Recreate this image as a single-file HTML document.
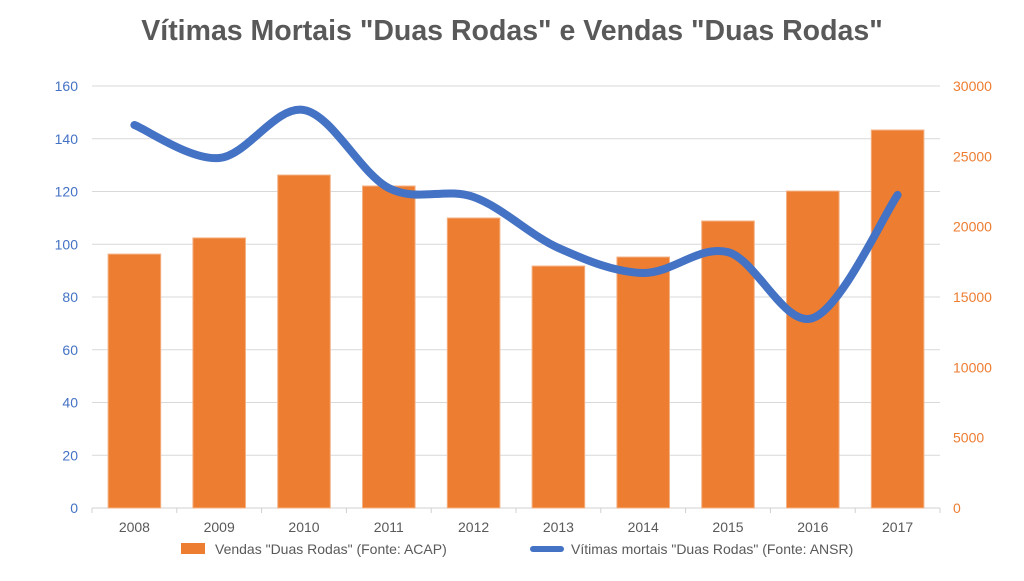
<!DOCTYPE html>
<html><head><meta charset="utf-8"><style>
body{margin:0;background:#fff;font-family:"Liberation Sans",sans-serif}
</style></head><body>
<svg id="c" width="1024" height="576" viewBox="0 0 1024 576" xmlns="http://www.w3.org/2000/svg">
<text x="512" y="40" text-anchor="middle" font-size="28.5" font-weight="bold" fill="#595959">Vítimas Mortais "Duas Rodas" e Vendas "Duas Rodas"</text>
<g id="grid"></g><g id="bars"></g><g id="line"></g><g id="axes"></g>
<g>
<rect x="181" y="543" width="24" height="11" fill="#ED7D31"/>
<text x="215" y="554" font-size="14" fill="#595959">Vendas "Duas Rodas" (Fonte: ACAP)</text>
<line x1="533" y1="549" x2="561" y2="549" stroke="#4472C4" stroke-width="6" stroke-linecap="round"/>
<text x="571" y="554" font-size="14" fill="#595959">Vítimas mortais "Duas Rodas" (Fonte: ANSR)</text>
</g>
</svg>
<script>
const years=["2008","2009","2010","2011","2012","2013","2014","2015","2016","2017"];
const vendas=[18050,19200,23670,22890,20615,17200,17840,20400,22530,26870];
const vitimas=[145.2,132.7,150.9,121.3,117.9,98.6,89.1,97,72,118.7];
const leftTicks=[0,20,40,60,80,100,120,140,160];
const rightTicks=[0,5000,10000,15000,20000,25000,30000];
const NS="http://www.w3.org/2000/svg";
const X0=92,X1=940,Y0=508,Y1=86,bw=(X1-X0)/years.length;
const yL=v=>Y0-(v/160)*(Y0-Y1);
const yR=v=>Y0-(v/30000)*(Y0-Y1);
const xc=i=>X0+bw*(i+0.5);
function mk(t,a,p){const e=document.createElementNS(NS,t);for(const k in a)e.setAttribute(k,a[k]);document.getElementById(p).appendChild(e);return e;}
leftTicks.forEach(v=>{
 const g=mk('line',{x1:X0,x2:X1,y1:yL(v),y2:yL(v),stroke:v?'#d9d9d9':'#d0d0d0','stroke-width':1},'grid');
 
 
 const t=mk('text',{x:78,y:yL(v)+5,'text-anchor':'end','font-size':14,fill:'#4472C4'},'axes');t.textContent=v;
 
 
});
rightTicks.forEach(v=>{
 const t=mk('text',{x:953,y:yR(v)+5,'font-size':14,fill:'#ED7D31'},'axes');t.textContent=v;
 
 
});
for(let i=0;i<=years.length;i++){const l=mk('line',{x1:X0+bw*i,x2:X0+bw*i,y1:Y0,y2:Y0+5,stroke:'#d0d0d0'},'axes');
 
 }
years.forEach((y,i)=>{
 const t=mk('text',{x:xc(i),y:532,'text-anchor':'middle','font-size':14,fill:'#595959'},'axes');t.textContent=y;
 
 
 const w=bw*0.62;
 const r=mk('rect',{x:xc(i)-w/2,y:yR(vendas[i]),width:w,height:Y0-yR(vendas[i]),fill:'#ED7D31',stroke:'#F4B183','stroke-width':1},'bars');
 
 
});
const pts=vitimas.map((v,i)=>[xc(i),yL(v)]);
let d='M'+pts[0][0]+','+pts[0][1];
for(let i=0;i<pts.length-1;i++){
 const p0=pts[Math.max(0,i-1)],p1=pts[i],p2=pts[i+1],p3=pts[Math.min(pts.length-1,i+2)];
 const c1=[p1[0]+(p2[0]-p0[0])/6,p1[1]+(p2[1]-p0[1])/6],c2=[p2[0]-(p3[0]-p1[0])/6,p2[1]-(p3[1]-p1[1])/6];
 d+=` C${c1[0]},${c1[1]} ${c2[0]},${c2[1]} ${p2[0]},${p2[1]}`;
}
const ln=mk('path',{d:d,fill:'none',stroke:'#4472C4','stroke-width':8,'stroke-linecap':'round','stroke-linejoin':'round'},'line');


</script>
</body></html>
